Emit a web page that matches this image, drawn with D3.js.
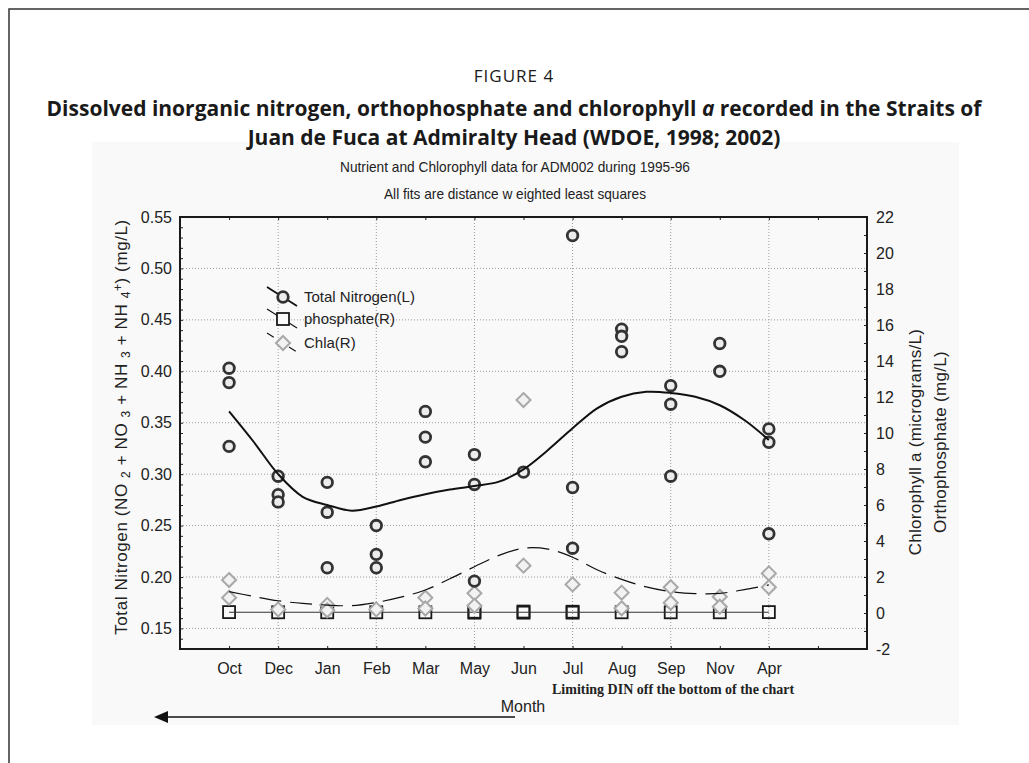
<!doctype html>
<html>
<head>
<meta charset="utf-8">
<style>
  body { margin: 0; background: #fff; }
  svg text { font-family: "Liberation Sans", Arial, sans-serif; fill: #222; }
  .ttl { font-family: "Open Sans", "Noto Sans", sans-serif; fill: #1a1a1a; }
</style>
<script src="https://d3js.org/d3.v7.min.js"></script>
</head>
<body>
<svg width="1029" height="763"></svg>
<script>
// months on the x axis (positions 1..12)
var months = ["Oct", "Dec", "Jan", "Feb", "Mar", "May", "Jun", "Jul", "Aug", "Sep", "Nov", "Apr"];

// total nitrogen samples (mg/L, left axis), one list per month
var nitrogen = [
  [0.403, 0.389, 0.327],
  [0.298, 0.280, 0.273],
  [0.292, 0.263, 0.209],
  [0.250, 0.222, 0.209],
  [0.361, 0.336, 0.312],
  [0.319, 0.290, 0.196],
  [0.302],
  [0.532, 0.287, 0.228],
  [0.441, 0.434, 0.419],
  [0.386, 0.368, 0.298],
  [0.427, 0.400],
  [0.344, 0.331, 0.242]
];

// chlorophyll a samples (micrograms/L, right axis)
var chla = [
  [1.83, 0.85], [0.2], [0.45, 0.15], [0.2], [0.85, 0.25], [1.1, 0.4],
  [11.83, 2.63], [1.59], [1.13, 0.26], [1.43, 0.57], [0.9, 0.35], [2.2, 1.43]
];

// orthophosphate samples (mg/L, right axis)
var phosphate = [
  [0.05], [0.04], [0.04], [0.04], [0.04], [0.02, 0.07],
  [0.02, 0.08], [0.02, 0.07], [0.04], [0.04], [0.04], [0.05]
];

// distance weighted least squares fits, read at half-month steps
var fitX = [1, 1.5, 2, 2.5, 3, 3.5, 4, 4.5, 5, 5.5, 6, 6.5, 7, 7.5, 8, 8.5, 9, 9.5, 10, 10.5, 11, 11.5, 12];
var nitrogenFit = [0.361, 0.3315, 0.300, 0.278, 0.270, 0.2645, 0.2685, 0.2749, 0.2805, 0.285, 0.2885, 0.2927,
  0.3047, 0.3235, 0.3446, 0.364, 0.3753, 0.380, 0.379, 0.3753, 0.367, 0.3526, 0.3332];
var chlaFit = [1.19, 0.92, 0.68, 0.53, 0.44, 0.41, 0.59, 0.88, 1.28, 1.9, 2.57, 3.2,
  3.6, 3.55, 3.1, 2.4, 1.87, 1.45, 1.19, 1.08, 1.09, 1.3, 1.56];
var phosphateFit = [0.04, 0.04, 0.04, 0.04, 0.04, 0.04, 0.04, 0.04, 0.04, 0.04, 0.04, 0.04,
  0.04, 0.04, 0.04, 0.04, 0.04, 0.04, 0.04, 0.04, 0.04, 0.04, 0.04];

var leftTicks = [0.15, 0.20, 0.25, 0.30, 0.35, 0.40, 0.45, 0.50, 0.55];
var rightTicks = [-2, 0, 2, 4, 6, 8, 10, 12, 14, 16, 18, 20, 22];

var svg = d3.select("svg");

// outer frame of the figure
svg.append("path").attr("d", "M9,763V9H1029").attr("fill", "none").attr("stroke", "#333").attr("stroke-width", 1.5);

// light panel behind the chart
svg.append("rect").attr("x", 92).attr("y", 142).attr("width", 867).attr("height", 583).attr("fill", "#f9f9f9");

// titles
svg.append("text").attr("class", "ttl").attr("x", 514).attr("y", 82).attr("text-anchor", "middle")
  .style("font-size", "17px").style("letter-spacing", "1px").text("FIGURE 4");
var t1 = svg.append("text").attr("class", "ttl").attr("x", 514).attr("y", 116).attr("text-anchor", "middle")
  .style("font-size", "21px").style("font-weight", "bold");
t1.append("tspan").text("Dissolved inorganic nitrogen, orthophosphate and chlorophyll ");
t1.append("tspan").style("font-style", "italic").text("a");
t1.append("tspan").text(" recorded in the Straits of");
svg.append("text").attr("class", "ttl").attr("x", 514).attr("y", 145).attr("text-anchor", "middle")
  .style("font-size", "21px").style("font-weight", "bold")
  .text("Juan de Fuca at Admiralty Head (WDOE, 1998; 2002)");

svg.append("text").attr("x", 515).attr("y", 172).attr("text-anchor", "middle").style("font-size", "15px")
  .attr("textLength", 350).attr("lengthAdjust", "spacingAndGlyphs")
  .text("Nutrient and Chlorophyll data for ADM002 during 1995-96");
svg.append("text").attr("x", 515).attr("y", 199).attr("text-anchor", "middle").style("font-size", "15px")
  .attr("textLength", 262).attr("lengthAdjust", "spacingAndGlyphs")
  .text("All fits are distance w eighted least squares");

var mLeft = 180, mRight = 867, mTop = 217, mBottom = 649;
var x = d3.scaleLinear().domain([0, 14]).range([mLeft, mRight]);
var yL = d3.scaleLinear().domain([0.13, 0.55]).range([mBottom, mTop]);
var yR = d3.scaleLinear().domain([-2, 22]).range([mBottom, mTop]);

// grid
var grid = svg.append("g").attr("stroke", "#9a9a9a").attr("stroke-dasharray", "1,2").attr("stroke-width", 1);
grid.selectAll("line.h").data(leftTicks.slice(0, -1)).enter().append("line")
  .attr("x1", mLeft).attr("x2", mRight).attr("y1", d => yL(d)).attr("y2", d => yL(d));
grid.selectAll("line.v").data([2, 4, 6, 8, 10, 12]).enter().append("line")
  .attr("y1", mTop).attr("y2", mBottom).attr("x1", d => x(d)).attr("x2", d => x(d));

// axes
var axL = svg.append("g").attr("transform", `translate(${mLeft},0)`)
  .call(d3.axisRight(yL).tickValues(d3.range(0.13, 0.5501, 0.01)).tickSize(3).tickFormat(""));
axL.append("g").call(d3.axisLeft(yL).tickValues(leftTicks).tickSize(0).tickPadding(8).tickFormat(d3.format(".2f")));
var axR = svg.append("g").attr("transform", `translate(${mRight},0)`)
  .call(d3.axisLeft(yR).tickValues(d3.range(-2, 22.01, 1)).tickSize(3).tickFormat(""));
axR.append("g").call(d3.axisRight(yR).tickValues(rightTicks).tickSize(0).tickPadding(9).tickFormat(d => String(d)));
var axB = svg.append("g").attr("transform", `translate(0,${mBottom})`)
  .call(d3.axisTop(x).tickValues(d3.range(1, 14)).tickSize(3).tickFormat(""));
axB.append("g").call(d3.axisBottom(x).tickValues(d3.range(1, 13)).tickSize(0).tickPadding(14)
  .tickFormat(d => months[d - 1]));
svg.append("g").attr("transform", `translate(0,${mTop})`)
  .call(d3.axisBottom(x).tickValues(d3.range(1, 14)).tickSize(3).tickFormat(""));
svg.selectAll(".domain").remove();
svg.selectAll(".tick line").attr("stroke", "#222");
svg.selectAll(".tick text").style("font-size", "16px").attr("fill", "#222");
svg.append("rect").attr("x", mLeft).attr("y", mTop).attr("width", mRight - mLeft).attr("height", mBottom - mTop)
  .attr("fill", "none").attr("stroke", "#1a1a1a").attr("stroke-width", 2);

// axis titles
var yl = svg.append("text").attr("transform", `translate(127,427) rotate(-90)`)
  .attr("text-anchor", "middle").style("font-size", "17px").style("letter-spacing", "0.6px");
yl.append("tspan").text("Total Nitrogen (NO   ");
yl.append("tspan").attr("baseline-shift", "-25%").style("font-size", "12px").text("2");
yl.append("tspan").text(" + NO ");
yl.append("tspan").attr("baseline-shift", "-25%").style("font-size", "12px").text("3");
yl.append("tspan").text(" + NH ");
yl.append("tspan").attr("baseline-shift", "-25%").style("font-size", "12px").text("3");
yl.append("tspan").text(" + NH ");
yl.append("tspan").attr("baseline-shift", "-25%").style("font-size", "12px").text("4");
yl.append("tspan").attr("baseline-shift", "45%").style("font-size", "12px").text("+");
yl.append("tspan").text(")  (mg/L)");

svg.append("text").attr("transform", `translate(921,442) rotate(-90)`).attr("text-anchor", "middle")
  .style("font-size", "17px").style("letter-spacing", "0.3px").text("Chlorophyll a (micrograms/L)");
svg.append("text").attr("transform", `translate(946,442) rotate(-90)`).attr("text-anchor", "middle")
  .style("font-size", "17px").style("letter-spacing", "0.3px").text("Orthophosphate (mg/L)");

svg.append("text").attr("x", 523).attr("y", 712).attr("text-anchor", "middle").style("font-size", "16px").text("Month");
svg.append("text").attr("x", 552).attr("y", 694).style("font-family", "'Liberation Serif', serif")
  .style("font-weight", "bold").style("font-size", "14px").attr("fill", "#111")
  .text("Limiting DIN off the bottom of the chart");
svg.append("line").attr("x1", 164).attr("x2", 515).attr("y1", 717).attr("y2", 717)
  .attr("stroke", "#111").attr("stroke-width", 1.6);
svg.append("path").attr("d", "M154,717l14,-6v12z").attr("fill", "#111");

// flatten per-month lists
function flat(arr) {
  var out = [];
  arr.forEach((vals, i) => vals.forEach(v => out.push({ m: i + 1, v: v })));
  return out;
}

// phosphate squares
svg.append("g").selectAll("rect").data(flat(phosphate)).enter().append("rect")
  .attr("x", d => x(d.m) - 6).attr("y", d => yR(d.v) - 6).attr("width", 12).attr("height", 12)
  .attr("fill", "none").attr("stroke", "#1a1a1a").attr("stroke-width", 1.8);

// fits
var line = (ys, sc) => d3.line().x((d, i) => x(fitX[i])).y(d => sc(d)).curve(d3.curveCatmullRom)(ys);
svg.append("path").attr("d", line(phosphateFit, yR)).attr("fill", "none").attr("stroke", "#333").attr("stroke-width", 1.1);

// chla diamonds
var diamond = "M0,-7L7,0L0,7L-7,0Z";
svg.append("g").selectAll("path").data(flat(chla)).enter().append("path")
  .attr("d", diamond).attr("transform", d => `translate(${x(d.m)},${yR(d.v)})`)
  .attr("fill", "#f2f2f2").attr("stroke", "#a8a8a8").attr("stroke-width", 2);

svg.append("path").attr("d", line(chlaFit, yR)).attr("fill", "none").attr("stroke", "#111")
  .attr("stroke-width", 1.2).attr("stroke-dasharray", "22,9");

// nitrogen circles
svg.append("g").selectAll("circle").data(flat(nitrogen)).enter().append("circle")
  .attr("cx", d => x(d.m)).attr("cy", d => yL(d.v)).attr("r", 5.3)
  .attr("fill", "#ececec").attr("stroke", "#333").attr("stroke-width", 2.8);

svg.append("path").attr("d", line(nitrogenFit, yL)).attr("fill", "none").attr("stroke", "#111").attr("stroke-width", 2);

// legend
var legend = [
  { name: "Total Nitrogen(L)", y: 297 },
  { name: "phosphate(R)", y: 319 },
  { name: "Chla(R)", y: 343 }
];
var lg = svg.append("g");
lg.selectAll("line").data(legend).enter().append("line")
  .attr("x1", 267).attr("x2", 297).attr("y1", d => d.y - 10).attr("y2", d => d.y + 9)
  .attr("stroke", "#111").attr("stroke-width", (d, i) => i === 0 ? 1.8 : 1.1)
  .attr("stroke-dasharray", (d, i) => i === 2 ? "8,5" : null);
lg.append("circle").attr("cx", 283).attr("cy", legend[0].y).attr("r", 5.3)
  .attr("fill", "#ececec").attr("stroke", "#333").attr("stroke-width", 2.8);
lg.append("rect").attr("x", 277).attr("y", legend[1].y - 6).attr("width", 12).attr("height", 12)
  .attr("fill", "#f9f9f9").attr("stroke", "#1a1a1a").attr("stroke-width", 1.8);
lg.append("path").attr("d", diamond).attr("transform", `translate(283,${legend[2].y})`)
  .attr("fill", "#f2f2f2").attr("stroke", "#a8a8a8").attr("stroke-width", 2);
lg.selectAll("text").data(legend).enter().append("text")
  .attr("x", 304).attr("y", d => d.y).attr("dy", "0.35em").style("font-size", "15px").text(d => d.name);
</script>
</body>
</html>
